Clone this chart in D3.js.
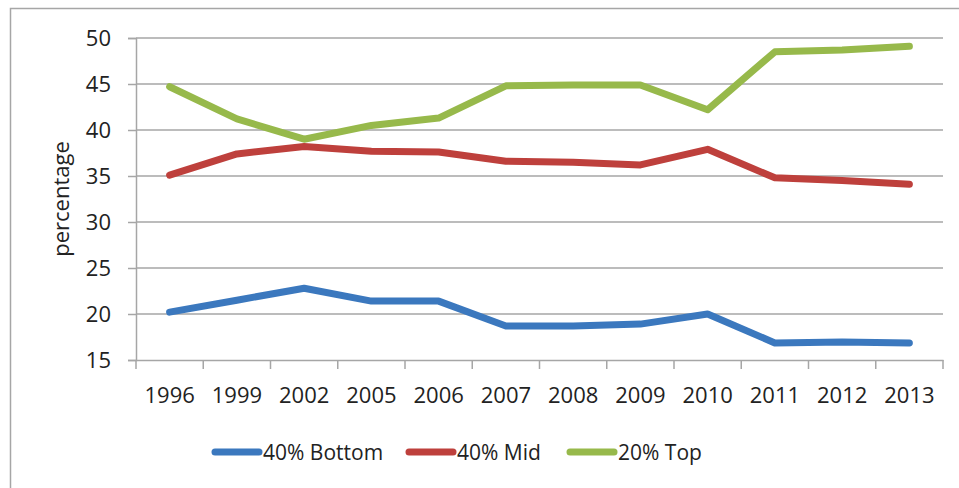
<!DOCTYPE html>
<html>
<head>
<meta charset="utf-8">
<script src="https://cdn.jsdelivr.net/npm/d3@7"></script>
<style>
  body { margin: 0; background: #fff; }
  text { font-family: "Open Sans", sans-serif; fill: #222; }
</style>
</head>
<body>
<div id="chart"></div>
<script>
// Chart data
const years = ["1996", "1999", "2002", "2005", "2006", "2007", "2008", "2009", "2010", "2011", "2012", "2013"];
const bottom40 = [20.2, 21.5, 22.8, 21.4, 21.4, 18.7, 18.7, 18.9, 20.0, 16.85, 16.95, 16.85];
const mid40 = [35.1, 37.4, 38.2, 37.7, 37.6, 36.6, 36.5, 36.2, 37.9, 34.8, 34.5, 34.1];
const top20 = [44.7, 41.2, 39.0, 40.5, 41.3, 44.8, 44.9, 44.9, 42.2, 48.5, 48.7, 49.1];
const yTicks = [15, 20, 25, 30, 35, 40, 45, 50];

const series = [
  { name: "40% Bottom", values: bottom40, color: "#3b78be" },
  { name: "40% Mid", values: mid40, color: "#be403c" },
  { name: "20% Top", values: top20, color: "#97b94b" }
];

const width = 959;
const height = 488;
const margin = { top: 38, right: 16, bottom: 128, left: 136 };

const svg = d3
  .select("#chart")
  .append("svg")
  .attr("width", width)
  .attr("height", height);

// Outer frame (only left and top edges fall inside the picture)
svg
  .append("rect")
  .attr("x", 10.5)
  .attr("y", 8.5)
  .attr("width", 1000)
  .attr("height", 600)
  .attr("fill", "none")
  .attr("stroke", "#a6a6a6")
  .attr("stroke-width", 1.5);

// Scales
const x = d3
  .scaleBand()
  .domain(years)
  .range([margin.left, width - margin.right]);

const y = d3
  .scaleLinear()
  .domain([15, 50])
  .range([height - margin.bottom, margin.top]);

// Gridlines
svg
  .append("g")
  .selectAll("line")
  .data(yTicks.slice(1))
  .enter()
  .append("line")
  .attr("x1", margin.left)
  .attr("x2", width - margin.right)
  .attr("y1", (d) => y(d))
  .attr("y2", (d) => y(d))
  .attr("stroke", "#a6a6a6")
  .attr("stroke-width", 1.5);

// Y axis
const yAxis = svg
  .append("g")
  .attr("transform", `translate(${margin.left}, 0)`)
  .call(d3.axisLeft(y).tickValues(yTicks).tickSize(8).tickPadding(17));

yAxis.select(".domain").attr("stroke", "#a6a6a6").attr("stroke-width", 1.5);
yAxis.selectAll(".tick line").attr("stroke", "#a6a6a6").attr("stroke-width", 1.5);
yAxis.selectAll(".tick text").style("font-size", "22px").attr("fill", "#222");

// X axis with tick marks between categories
const xAxis = svg
  .append("g")
  .attr("transform", `translate(0, ${height - margin.bottom})`)
  .call(d3.axisBottom(x).tickSize(0).tickPadding(27));

xAxis.select(".domain").attr("stroke", "#a6a6a6").attr("stroke-width", 1.5);
xAxis.selectAll(".tick text").style("font-size", "22px").attr("fill", "#222");

svg
  .append("g")
  .selectAll("line")
  .data(years.concat(["end"]))
  .enter()
  .append("line")
  .attr("x1", (d, i) => margin.left + i * x.bandwidth())
  .attr("x2", (d, i) => margin.left + i * x.bandwidth())
  .attr("y1", height - margin.bottom)
  .attr("y2", height - margin.bottom + 9)
  .attr("stroke", "#a6a6a6")
  .attr("stroke-width", 1.5);

// Y axis title
svg
  .append("text")
  .attr("transform", `translate(69, ${(margin.top + height - margin.bottom) / 2}) rotate(-90)`)
  .attr("text-anchor", "middle")
  .style("font-size", "22px")
  .text("percentage");

// Lines
const line = d3
  .line()
  .x((d, i) => x(years[i]) + x.bandwidth() / 2)
  .y((d) => y(d));

svg
  .append("g")
  .selectAll("path")
  .data(series)
  .enter()
  .append("path")
  .attr("d", (d) => line(d.values))
  .attr("fill", "none")
  .attr("stroke", (d) => d.color)
  .attr("stroke-width", 7)
  .attr("stroke-linejoin", "round")
  .attr("stroke-linecap", "round");

// Legend
const legendX = [215, 409, 570];
const legend = svg
  .append("g")
  .selectAll("g")
  .data(series)
  .enter()
  .append("g")
  .attr("transform", (d, i) => `translate(${legendX[i]}, 452)`);

legend
  .append("line")
  .attr("x1", 0)
  .attr("x2", 44)
  .attr("stroke", (d) => d.color)
  .attr("stroke-width", 7)
  .attr("stroke-linecap", "round");

legend
  .append("text")
  .attr("x", 48)
  .attr("dy", "0.36em")
  .style("font-size", "21px")
  .text((d) => d.name);
</script>
</body>
</html>
